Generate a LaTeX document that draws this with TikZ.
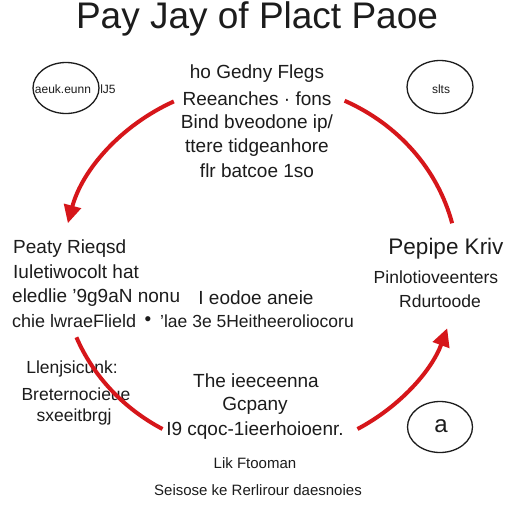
\documentclass[tikz,border=0pt]{standalone}
\usepackage{fontspec}
\setmainfont{Liberation Sans}
\usetikzlibrary{arrows.meta,shapes.geometric}
\definecolor{txt}{RGB}{28,28,28}
\definecolor{arcred}{RGB}{214,22,26}
\begin{document}
\begin{tikzpicture}[x=1pt,y=-1pt,
  lbl/.style={text=txt, inner sep=0pt, anchor=base},
  ttl/.style={lbl, font=\fontsize{37}{42}\selectfont},
  big/.style={lbl, font=\fontsize{19}{24}\selectfont},
  mid/.style={lbl, font=\fontsize{17.5}{22}\selectfont},
  sml/.style={lbl, font=\fontsize{15}{20}\selectfont},
  tiny/.style={lbl, font=\fontsize{12}{14}\selectfont},
  oval/.style={draw=txt, line width=1.3pt, ellipse, inner sep=0pt},
  redarc/.style={draw=arcred, line width=4pt},
  tipend/.style={-{Triangle[length=18pt,width=17pt]}}
]
\useasboundingbox (0,0) rectangle (512,512);
\fill[white] (0,0) rectangle (512,512);

% title
\node[ttl] (title) at (257,28) {Pay Jay of Plact Paoe};

% ellipses
\node[oval, minimum width=66pt, minimum height=51pt] (e1) at (66,88) {};
\node[tiny] (e1t) at (63,93) {aeuk.eunn};
\node[tiny] (e1s) at (108,93) {lJ5};
\node[oval, minimum width=66pt, minimum height=53pt] (e2) at (440,87) {};
\node[tiny] (e2t) at (441,93) {slts};
\node[oval, minimum width=65pt, minimum height=51pt] (e3) at (440,427) {};
\node[lbl, font=\fontsize{24}{28}\selectfont] (e3t) at (441,432) {a};

% top block
\node[big] (t1) at (257,78) {ho Gedny Flegs};
\node[big] (t2) at (257,105) {Reeanches · fons};
\node[big] (t3) at (257,128) {Bind bveodone ip/};
\node[big] (t4) at (257,152) {ttere tidgeanhore};
\node[big] (t5) at (257,177) {flr batcoe 1so};

% left block
\node[big, anchor=base west] (l1) at (13,253) {Peaty Rieqsd};
\node[big, anchor=base west] (l2) at (13,278) {Iuletiwocolt hat};
\node[big, anchor=base west] (l3) at (12,302) {eledlie '9g9aN nonu};
\node[lbl, font=\fontsize{18}{24}\selectfont, anchor=base west] (l4) at (12,327) {chie lwraeFlield};
\node[big] (ldot) at (148,325) {•};

% middle block
\node[big] (m1) at (256,304) {I eodoe aneie};
\node[lbl, font=\fontsize{17.5}{22}\selectfont] (m2) at (257,327) {'lae 3e 5Heitheeroliocoru};

% right block
\node[lbl, font=\fontsize{22.5}{26}\selectfont] (r1) at (446,254) {Pepipe Kriv};
\node[mid] (r2) at (436,283) {Pinlotioveenters};
\node[mid] (r3) at (440,307) {Rdurtoode};

% bottom-left block
\node[mid] (b1) at (72,373) {Llenjsicunk:};
\node[mid] (b2) at (76,400) {Breternocieue};
\node[mid] (b3) at (74,421) {sxeeitbrgj};

% bottom-middle block
\node[big] (c1) at (256,387) {The ieeceenna};
\node[big] (c2) at (255,410) {Gcpany};
\node[big] (c3) at (255,435) {I9 cqoc-1ieerhoioenr.};

% bottom block
\node[sml] (d1) at (255,468) {Lik Ftooman};
\node[sml] (d2) at (258,495) {Seisose ke Rerlirour daesnoies};

% red cycle arcs
\coordinate (c) at (260,268);
\draw[redarc, tipend] (c) ++(115.8:198pt and 185pt)
  arc[start angle=115.8, end angle=166, x radius=198pt, y radius=185pt];
\draw[redarc] (c) ++(64.7:198pt and 185pt)
  arc[start angle=64.7, end angle=14, x radius=198pt, y radius=185pt];
\draw[redarc, tipend] (c) ++(-60.5:198pt and 185pt)
  arc[start angle=-60.5, end angle=-19, x radius=198pt, y radius=185pt];
\draw[redarc] (c) ++(-158:198pt and 185pt)
  arc[start angle=-158, end angle=-119.5, x radius=198pt, y radius=185pt];
\end{tikzpicture}
\end{document}
